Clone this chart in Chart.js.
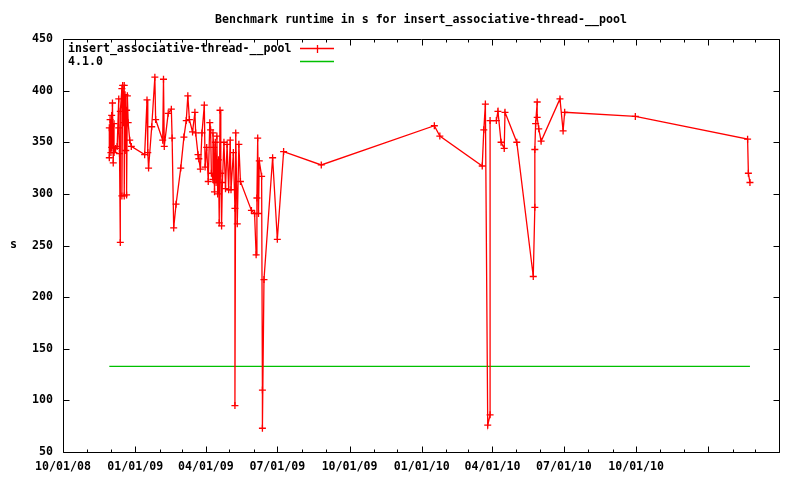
<!DOCTYPE html>
<html>
<head>
<meta charset="utf-8">
<script src="https://cdn.jsdelivr.net/npm/chart.js@4.4.1/dist/chart.umd.min.js"></script>
<style>
  html, body { margin: 0; padding: 0; background: #fff; }
</style>
</head>
<body>
<canvas id="chart" width="800" height="480"></canvas>
<script>
// benchmark runs (date of run, runtime in s)
const runDates = [
  "2008-11-29", "2008-11-29", "2008-11-30", "2008-12-01", "2008-12-02", "2008-12-02",
  "2008-12-03", "2008-12-04", "2008-12-05", "2008-12-05", "2008-12-07", "2008-12-09",
  "2008-12-11", "2008-12-11", "2008-12-12", "2008-12-13", "2008-12-13", "2008-12-15",
  "2008-12-15", "2008-12-16", "2008-12-17", "2008-12-18", "2008-12-18", "2008-12-19",
  "2008-12-20", "2008-12-21", "2008-12-21", "2008-12-22", "2008-12-23", "2008-12-25",
  "2008-12-27", "2009-01-13", "2009-01-16", "2009-01-17", "2009-01-18", "2009-01-22",
  "2009-01-26", "2009-01-27", "2009-02-05", "2009-02-06", "2009-02-07", "2009-02-12",
  "2009-02-16", "2009-02-17", "2009-02-19", "2009-02-22", "2009-02-28", "2009-03-04",
  "2009-03-07", "2009-03-09", "2009-03-11", "2009-03-15", "2009-03-18", "2009-03-19",
  "2009-03-22", "2009-03-23", "2009-03-25", "2009-03-27", "2009-03-30", "2009-03-31",
  "2009-04-02", "2009-04-04", "2009-04-06", "2009-04-07", "2009-04-08", "2009-04-10",
  "2009-04-10", "2009-04-11", "2009-04-12", "2009-04-13", "2009-04-14", "2009-04-15",
  "2009-04-16", "2009-04-17", "2009-04-18", "2009-04-19", "2009-04-20", "2009-04-21",
  "2009-04-22", "2009-04-24", "2009-04-26", "2009-04-28", "2009-04-30", "2009-05-02",
  "2009-05-03", "2009-05-06", "2009-05-08", "2009-05-08", "2009-05-09", "2009-05-11",
  "2009-05-13", "2009-05-15", "2009-05-29", "2009-06-02", "2009-06-04", "2009-06-05",
  "2009-06-06", "2009-06-07", "2009-06-08", "2009-06-11", "2009-06-12", "2009-06-12",
  "2009-06-14", "2009-06-25", "2009-07-01", "2009-07-09", "2009-08-26", "2010-01-17",
  "2010-01-24", "2010-03-19", "2010-03-21", "2010-03-23", "2010-03-26", "2010-03-29",
  "2010-03-29", "2010-04-06", "2010-04-08", "2010-04-12", "2010-04-16", "2010-04-17",
  "2010-05-02", "2010-05-23", "2010-05-25", "2010-05-25", "2010-05-26", "2010-05-28",
  "2010-05-28", "2010-05-30", "2010-06-02", "2010-06-26", "2010-06-30", "2010-07-02",
  "2010-09-30", "2011-02-20", "2011-02-21", "2011-02-23"
];
const runTimes = [
  364, 335, 372, 340, 376, 345,
  388, 330, 368, 340, 344, 346,
  392, 364, 339, 253, 380, 402,
  298, 405, 369, 405, 298, 396,
  342, 381, 299, 395, 369, 352,
  346, 338, 391, 340, 325, 365,
  413, 372, 352, 411, 346, 378,
  382, 354, 267, 290, 325, 355,
  371, 395, 372, 360, 379, 359,
  338, 334, 324, 359, 386, 326,
  345, 312, 369, 362, 320, 314,
  359, 345, 302, 350, 311, 356,
  300, 333, 272, 381, 320, 269,
  311, 350, 305, 348, 304, 352,
  304, 340, 286, 95, 359, 271,
  348, 312, 284, 281, 241, 296,
  354, 281, 332, 317, 110, 73,
  217, 335, 256, 341, 328, 366,
  356, 327, 362, 387, 76, 86,
  371, 371, 380, 350, 344, 379,
  350, 220, 287, 343, 368, 389,
  374, 363, 351, 392, 361, 379,
  375, 353, 320, 311
];

// reference release 4.1.0
const baselineDates = ["2008-11-29", "2011-02-23"];
const baselineTimes = [133, 133];

const xTickDates = [
  "2008-10-01", "2009-01-01", "2009-04-01", "2009-07-01", "2009-10-01", "2010-01-01",
  "2010-04-01", "2010-07-01", "2010-10-01", "2011-01-01", "2011-04-01"
];
const xTickLabels = [
  "10/01/08", "01/01/09", "04/01/09", "07/01/09", "10/01/09", "01/01/10",
  "04/01/10", "07/01/10", "10/01/10", "", ""
];
const yTicks = [50, 100, 150, 200, 250, 300, 350, 400, 450];

const FONT = "'DejaVu Sans Mono', monospace";
const RED = "#ff0000";
const GREEN = "#00c000";

const day = (s) => Date.parse(s) / 86400000;
const toPoints = (dates, vals) => dates.map((d, i) => ({ x: day(d), y: vals[i] }));

// gnuplot-like frame: box, inward ticks on all sides, legend, "s" label
const gnuplotFrame = {
  id: "gnuplotFrame",
  beforeDatasetsDraw(chart) {
    const { ctx, chartArea: a, scales } = chart;
    const L = a.left + 0.5, R = a.right + 0.5, T = a.top + 0.5, B = a.bottom + 0.5;
    ctx.save();
    ctx.strokeStyle = "#000";
    ctx.lineWidth = 1;
    ctx.beginPath();
    ctx.moveTo(L, T); ctx.lineTo(R, T); ctx.lineTo(R, B); ctx.lineTo(L, B); ctx.closePath();
    yTicks.forEach((v) => {
      const p = Math.round(scales.y.getPixelForValue(v)) + 0.5;
      ctx.moveTo(L, p); ctx.lineTo(L + 6, p);
      ctx.moveTo(R, p); ctx.lineTo(R - 6, p);
    });
    // monthly minor ticks, quarterly major ticks
    for (let m = 0; m <= 30; m++) {
      const d = Date.UTC(2008, 9 + m, 1) / 86400000;
      const p = Math.round(scales.x.getPixelForValue(d)) + 0.5;
      const len = m % 3 === 0 ? 6 : 3;
      ctx.moveTo(p, B); ctx.lineTo(p, B - len);
      ctx.moveTo(p, T); ctx.lineTo(p, T + len);
    }
    ctx.stroke();
    ctx.restore();
  },
  afterDraw(chart) {
    const { ctx } = chart;
    ctx.save();
    ctx.font = "bold 11.6px " + FONT;
    ctx.fillStyle = "#000";
    ctx.textBaseline = "middle";
    ctx.textAlign = "left";
    chart.data.datasets.forEach((ds, i) => {
      const y = 49 + i * 13;
      ctx.fillText(ds.label, 68, y);
      ctx.strokeStyle = ds.borderColor;
      ctx.lineWidth = 1.3;
      ctx.beginPath();
      ctx.moveTo(300, y - 0.5); ctx.lineTo(334, y - 0.5);
      if (ds.pointRadius > 0) {
        ctx.moveTo(317.5, y - 4); ctx.lineTo(317.5, y + 4);
      }
      ctx.stroke();
    });
    ctx.fillText("s", 10, 245);
    ctx.restore();
  }
};

Chart.defaults.font.family = FONT;
Chart.defaults.font.size = 11.6;
Chart.defaults.font.weight = "bold";
Chart.defaults.color = "#000";

new Chart(document.getElementById("chart"), {
  type: "line",
  data: {
    datasets: [
      {
        label: "insert_associative-thread-__pool",
        data: toPoints(runDates, runTimes),
        borderColor: RED,
        backgroundColor: RED,
        borderWidth: 1.3,
        tension: 0,
        pointStyle: "cross",
        pointRadius: 3.5,
        pointBorderWidth: 1.3,
        pointBorderColor: RED,
      },
      {
        label: "4.1.0",
        data: toPoints(baselineDates, baselineTimes),
        borderColor: GREEN,
        backgroundColor: GREEN,
        borderWidth: 1.3,
        tension: 0,
        pointRadius: 0,
      },
    ],
  },
  options: {
    responsive: false,
    animation: false,
    events: [],
    layout: { padding: { left: 0, right: 21, top: 0, bottom: 0 } },
    plugins: {
      legend: { display: false },
      tooltip: { enabled: false },
      title: {
        display: true,
        fullSize: false,
        text: "Benchmark runtime in s for insert_associative-thread-__pool",
        color: "#000",
        font: { size: 11.6, weight: "bold", lineHeight: "14px" },
        padding: { top: 13, bottom: 12 },
      },
    },
    scales: {
      x: {
        type: "linear",
        min: day(xTickDates[0]),
        max: day(xTickDates[xTickDates.length - 1]),
        grid: { display: false, drawTicks: false },
        border: { display: false },
        afterBuildTicks: (s) => { s.ticks = xTickDates.map((d) => ({ value: day(d) })); },
        afterFit: (s) => { s.height = 28; },
        ticks: {
          autoSkip: false,
          maxRotation: 0,
          padding: 8,
          callback: (v, i) => xTickLabels[i],
        },
      },
      y: {
        min: 50,
        max: 450,
        grid: { display: false, drawTicks: false },
        border: { display: false },
        afterBuildTicks: (s) => { s.ticks = yTicks.map((v) => ({ value: v })); },
        afterFit: (s) => { s.width = 63; },
        ticks: { padding: 10 },
      },
    },
  },
  plugins: [gnuplotFrame],
});
</script>
</body>
</html>
